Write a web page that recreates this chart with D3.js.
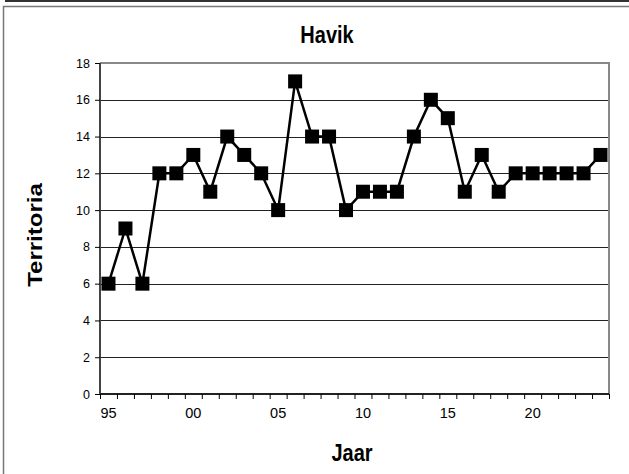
<!DOCTYPE html>
<html>
<head>
<meta charset="utf-8">
<script src="https://cdn.jsdelivr.net/npm/d3@7"></script>
<style>
  body { margin: 0; background: #fff; }
  text { font-family: "Liberation Sans", Arial, sans-serif; fill: #000; }
</style>
</head>
<body>
<script>
var years = [1995,1996,1997,1998,1999,2000,2001,2002,2003,2004,2005,2006,2007,2008,2009,
             2010,2011,2012,2013,2014,2015,2016,2017,2018,2019,2020,2021,2022,2023,2024];
var territoria = [6,9,6,12,12,13,11,14,13,12,10,17,14,14,10,
                  11,11,11,14,16,15,11,13,11,12,12,12,12,12,13];
var yTicks = [0,2,4,6,8,10,12,14,16,18];
var xLabelYears = [1995,2000,2005,2010,2015,2020];

var W = 629, H = 474;
var margin = {left:100, right:20, top:63, bottom:80};
var plotW = 609 - margin.left;
var plotH = 394 - margin.top;

var svg = d3.select("body").append("svg").attr("width",W).attr("height",H);

// outer frame (cut off at the window edges)
svg.append("line").attr("x1",5).attr("x2",W).attr("y1",1).attr("y2",1)
  .attr("stroke","#333").attr("stroke-width",2);
svg.append("rect").attr("x",3.5).attr("y",6.5).attr("width",W+10).attr("height",H+10)
  .attr("fill","none").attr("stroke","#777").attr("stroke-width",1.5);

var x = d3.scaleBand().domain(years).range([0,plotW]).padding(0);
var xEdge = d3.scaleLinear().domain([0,years.length]).range([0,plotW]);
var y = d3.scaleLinear().domain([0,18]).range([plotH,0]);

var g = svg.append("g").attr("transform","translate("+margin.left+","+margin.top+")");

// gridlines
g.append("g").selectAll("line").data(yTicks.slice(1,-1)).join("line")
  .attr("x1",0).attr("x2",plotW)
  .attr("y1",d => Math.round(y(d))+0.5).attr("y2",d => Math.round(y(d))+0.5)
  .attr("stroke","#222").attr("stroke-width",1);

// plot border top/right
g.append("path")
  .attr("d","M0,"+y(18)+"H"+plotW+"V"+plotH)
  .attr("fill","none").attr("stroke","#888").attr("stroke-width",2);

// y axis
var yAxis = d3.axisLeft(y).tickValues(yTicks).tickSize(5).tickPadding(5);
var ya = g.append("g").call(yAxis);
ya.select(".domain").attr("stroke","#444").attr("stroke-width",2).attr("d","M0,0V"+plotH);
ya.selectAll(".tick line").attr("stroke","#000");
ya.selectAll("text").attr("font-size",12.5);

// x axis ticks at category edges
var xAxis = d3.axisBottom(xEdge).tickValues(d3.range(0,years.length+1)).tickSize(5).tickFormat("");
var xa = g.append("g").attr("transform","translate(0,"+plotH+")").call(xAxis);
xa.select(".domain").attr("stroke","#222").attr("stroke-width",2).attr("d","M0,0H"+plotW);
xa.selectAll(".tick line").attr("stroke","#000");

// x labels centered in categories
var xLab = d3.axisBottom(x).tickValues(xLabelYears).tickSize(0).tickPadding(14)
  .tickFormat(d => String(d).slice(2));
var xl = g.append("g").attr("transform","translate(0,"+plotH+")").call(xLab);
xl.select(".domain").remove();
xl.selectAll("text").attr("font-size",14.5);

// line
var line = d3.line()
  .x((d,i) => x(years[i]) + x.bandwidth()/2)
  .y(d => y(d));
g.append("path").attr("d",line(territoria))
  .attr("fill","none").attr("stroke","#000").attr("stroke-width",2.5);

// markers
var ms = 14;
g.append("g").selectAll("rect").data(territoria).join("rect")
  .attr("x",(d,i) => x(years[i]) + x.bandwidth()/2 - ms/2)
  .attr("y",d => y(d) - ms/2)
  .attr("width",ms).attr("height",ms)
  .attr("fill","#000");

// titles
svg.append("text").attr("transform","translate(327,43) scale(1,1.15)").attr("text-anchor","middle")
  .attr("font-size",20).attr("font-weight","bold").text("Havik");
svg.append("text").attr("transform","translate(352,461) scale(1,1.15)").attr("text-anchor","middle")
  .attr("font-size",20).attr("font-weight","bold").text("Jaar");
svg.append("text").attr("transform","translate(42,235) rotate(-90) scale(1.2,1)").attr("text-anchor","middle")
  .attr("font-size",20).attr("font-weight","bold").text("Territoria");
</script>
</body>
</html>
